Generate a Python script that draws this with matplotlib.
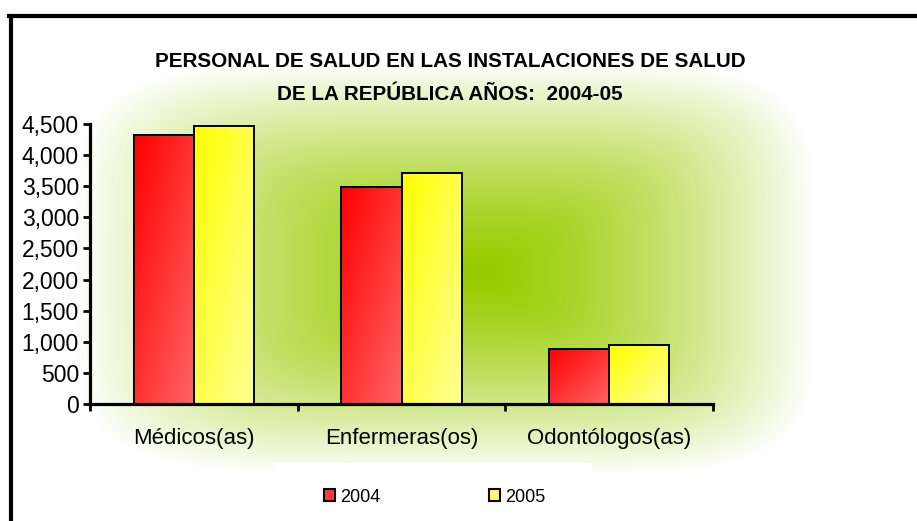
import numpy as np
import matplotlib
matplotlib.use('Agg')
import matplotlib.pyplot as plt
from matplotlib.patches import Patch, Rectangle

# data
categories = ['Médicos(as)', 'Enfermeras(os)', 'Odontólogos(as)']
years = ['2004', '2005']
vals_2004 = [4330, 3495, 890]
vals_2005 = [4460, 3720, 955]
yticks = list(range(0, 4501, 500))
title_lines = ['PERSONAL DE SALUD EN LAS INSTALACIONES DE SALUD',
               'DE LA REPÚBLICA AÑOS:  2004-05']

plt.rcParams['font.family'] = ['Liberation Sans', 'DejaVu Sans']

W, H = 917, 521
fig = plt.figure(figsize=(W / 100, H / 100), dpi=100)

# background: excel-like "from center" green gradient, in pixel space
bg = fig.add_axes([0, 0, 1, 1], zorder=0)
bg.axis('off')
yy, xx = np.mgrid[0:H, 0:W] + 0.5
cx, cy = 478, 273
hx = np.where(xx < cx, cx - 75, 815 - cx)
hy = np.where(yy < cy, cy - 62, 475 - cy)
p = 5
t = ((np.abs(xx - cx) / hx) ** p + (np.abs(yy - cy) / hy) ** p) ** (1 / p)
t = np.clip(t, 0, 1) ** 1.4
green = np.array([153, 204, 0]) / 255
img = green[None, None, :] * (1 - t[..., None]) + t[..., None]
bg.imshow(img, extent=(0, W, H, 0), aspect='auto', interpolation='bilinear')
bg.set_xlim(0, W)
bg.set_ylim(H, 0)

# white box behind the legend
bg.add_patch(Rectangle((273, 463), 319, 60, facecolor='white', edgecolor='none', zorder=2))

# outer frame (top and left only)
bg.plot([9, W], [16, 16], color='black', lw=3, solid_capstyle='projecting', clip_on=False, zorder=3)
bg.plot([11, 11], [16, H], color='black', lw=3, solid_capstyle='projecting', clip_on=False, zorder=3)

for i, line in enumerate(title_lines):
    fig.text(450 / W, 1 - (67 + 33 * i) / H, line, ha='center', va='baseline',
             fontsize=14.9, fontweight='bold', color='black')

ax = fig.add_axes([90 / W, (H - 404) / H, (713 - 90) / W, (404 - 124) / H], zorder=1)
ax.patch.set_alpha(0)

x = np.arange(len(categories))
bw = 0.29


def grad_fill(c0, c1, n=60):
    u = np.linspace(0, 1, n)
    g = (u[None, :] + u[:, None]) / 2
    c0 = np.array(c0) / 255
    c1 = np.array(c1) / 255
    return c0 * (1 - g[..., None]) + c1 * g[..., None]


red_grad = grad_fill((255, 0, 0), (255, 100, 100))
yel_grad = grad_fill((255, 255, 0), (255, 255, 150))

for vals, off, grad in [(vals_2004, -bw / 2, red_grad), (vals_2005, bw / 2, yel_grad)]:
    bars = ax.bar(x + off, vals, bw, facecolor='none', edgecolor='black', lw=1.4, zorder=3)
    for b in bars:
        x0, w, h = b.get_x(), b.get_width(), b.get_height()
        ax.imshow(grad, extent=(x0, x0 + w, 0, h), aspect='auto', zorder=2,
                  interpolation='bilinear')

ax.set_xlim(-0.5, 2.5)
ax.set_ylim(0, 4500)
ax.set_yticks(yticks)
ax.set_yticklabels([f'{v:,}' for v in yticks])
ax.set_xticks([-0.5, 0.5, 1.5, 2.5])
ax.set_xticklabels([])
ax.set_xticks(x, minor=True)
ax.set_xticklabels(categories, minor=True)
ax.tick_params(axis='y', direction='out', length=5, width=2, labelsize=16.5, pad=3)
ax.tick_params(axis='x', which='major', direction='out', length=5, width=2)
ax.tick_params(axis='x', which='minor', length=0, pad=17, labelsize=16)
for s in ['top', 'right']:
    ax.spines[s].set_visible(False)
for s in ['left', 'bottom']:
    ax.spines[s].set_linewidth(2.3)

handles = [Patch(facecolor='#ff3a3a', edgecolor='black', lw=1.5),
           Patch(facecolor='#ffff66', edgecolor='black', lw=1.5)]
fig.legend(handles, years, loc='center', bbox_to_anchor=(435 / W, 1 - 497 / H),
           ncol=2, frameon=False, fontsize=13, handlelength=0.6, handleheight=0.6,
           handletextpad=0.3, columnspacing=6.0)

fig.savefig('out.png', dpi=100)
